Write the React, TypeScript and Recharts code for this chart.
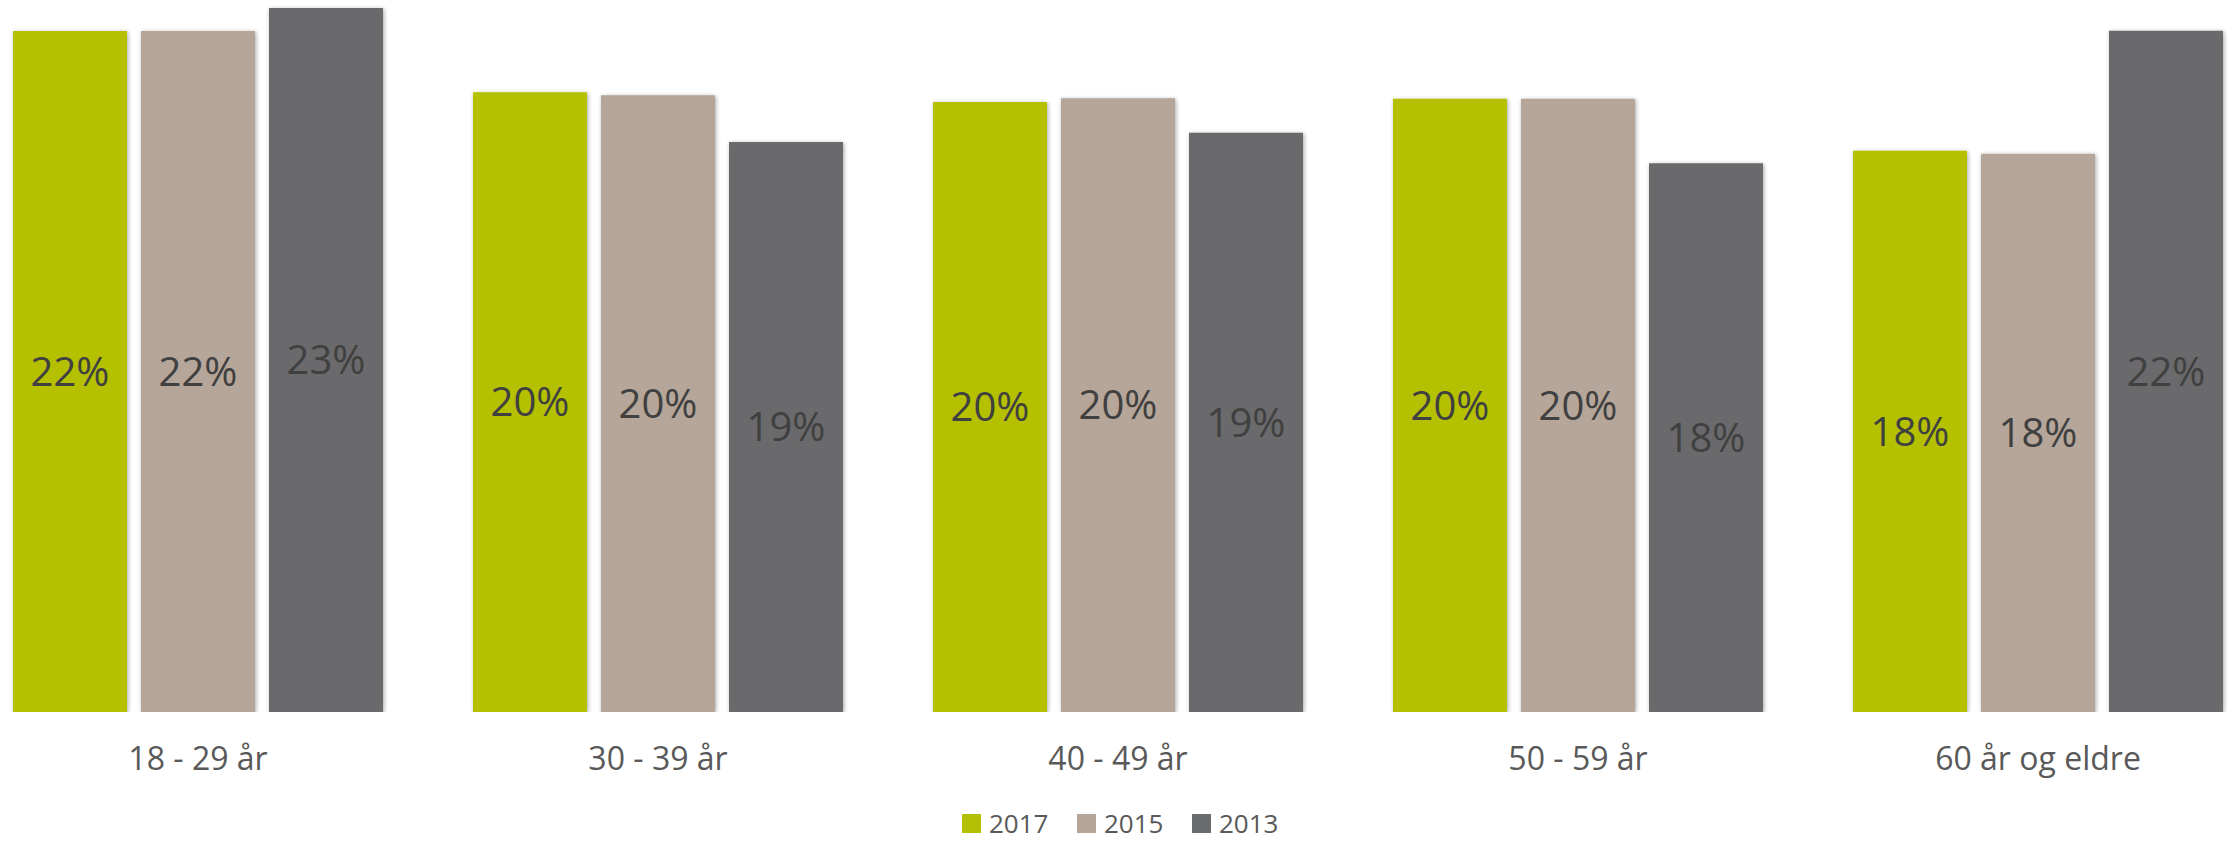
import React from 'react';
import { BarChart, Bar, XAxis, YAxis, Legend, LabelList } from 'recharts';

const categories = ['18 - 29 år', '30 - 39 år', '40 - 49 år', '50 - 59 år', '60 år og eldre'];
const values2017 = [22.33, 20.32, 20.0, 20.11, 18.4];
const values2015 = [22.33, 20.22, 20.12, 20.11, 18.3];
const values2013 = [23.08, 18.69, 18.99, 17.99, 22.34];
const seriesNames = ['2017', '2015', '2013'];
const seriesColors = ['#B4C006', '#B5A699', '#6A6B6D'];

const data = categories.map((c, i) => ({
  name: c,
  y2017: values2017[i],
  y2015: values2015[i],
  y2013: values2013[i],
}));

const keys = ['y2017', 'y2015', 'y2013'];

const FONT = '"Open Sans", "DejaVu Sans", sans-serif';

const Tick = (props: any) => {
  const { x, y, payload } = props;
  return (
    <text x={x} y={y + 58} textAnchor="middle" fill="#595959" fontSize={32} fontFamily={FONT}>
      {payload.value}
    </text>
  );
};

const LegendContent = () => (
  <div
    style={{
      height: 44,
      display: 'flex',
      justifyContent: 'center',
      alignItems: 'flex-start',
      paddingLeft: 33,
      boxSizing: 'border-box',
      paddingTop: 8,
      fontFamily: FONT,
    }}
  >
    {seriesNames.map((n, i) => (
      <div key={n} style={{ width: 115, display: 'flex', alignItems: 'center' }}>
        <div style={{ width: 19, height: 19, background: seriesColors[i], marginRight: 8, flex: '0 0 auto' }} />
        <span style={{ fontSize: 26, lineHeight: 'normal', color: '#595959', whiteSpace: 'nowrap' }}>{n}</span>
      </div>
    ))}
  </div>
);

export default function App() {
  return (
    <div style={{ position: 'absolute', left: 0, top: 0, width: 2232, height: 841, overflow: 'hidden', background: '#fff' }}>
      <div style={{ position: 'relative', left: -32, top: 0 }}>
        <BarChart
          width={2300}
          height={841}
          data={data}
          margin={{ top: 4, right: 0, bottom: 0, left: 0 }}
          barCategoryGap={45}
          barGap={14}
        >
          <defs>
            <filter id="barShadow" x="-10%" y="-10%" width="120%" height="120%">
              <feDropShadow dx="1" dy="1" stdDeviation="2" floodColor="#000" floodOpacity="0.35" />
            </filter>
          </defs>
          <XAxis
            dataKey="name"
            axisLine={false}
            tickLine={false}
            tickSize={0}
            tickMargin={0}
            height={85}
            interval={0}
            tick={<Tick />}
          />
          <YAxis hide domain={[0, 23.213]} allowDataOverflow />
          <Legend verticalAlign="bottom" content={<LegendContent />} wrapperStyle={{ height: 44 }} />
          {keys.map((k, i) => (
            <Bar
              key={k}
              dataKey={k}
              name={seriesNames[i]}
              fill={seriesColors[i]}
              isAnimationActive={false}
              style={{ filter: 'url(#barShadow)' }}
            >
              <LabelList
                dataKey={k}
                position="center"
                formatter={(v: any) => `${Math.round(Number(v))}%`}
                fill="#404040"
                fontSize={40}
                fontFamily={FONT}
              />
            </Bar>
          ))}
        </BarChart>
      </div>
    </div>
  );
}
